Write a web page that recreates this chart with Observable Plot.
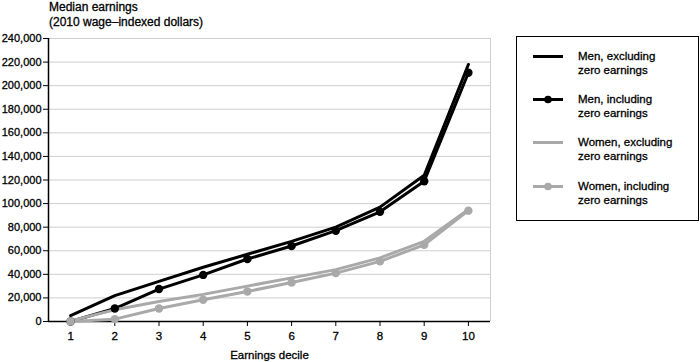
<!DOCTYPE html>
<html><head><meta charset="utf-8">
<script src="https://cdn.jsdelivr.net/npm/d3@7"></script>
<script src="https://cdn.jsdelivr.net/npm/@observablehq/plot@0.6"></script>
<style>
body{margin:0;background:#fff;font-family:"Liberation Sans",Arial,sans-serif;}
#wrap{position:relative;width:700px;height:362px;}
#title{position:absolute;left:49px;top:0px;font-size:12px;line-height:15px;color:#000;-webkit-text-stroke:0.3px #000;}
#legend{position:absolute;left:516px;top:36px;width:183px;height:185px;border:1.5px solid #000;box-sizing:border-box;}
.item{position:absolute;left:16px;font-size:11.5px;line-height:14px;-webkit-text-stroke:0.3px #000;}
.item svg{position:absolute;left:0;top:3px;}
.item span{position:absolute;left:45px;top:0;white-space:nowrap;}
svg text{stroke:#000;stroke-width:0.3px;}
</style></head>
<body><div id="wrap"><div id="chart"></div><div id="title">Median earnings<br>(2010 wage–indexed dollars)</div><div id="legend"></div></div>
<script>
const deciles = [1,2,3,4,5,6,7,8,9,10];
const menExcl   = [5000, 22000, 34000, 46000, 57000, 68000, 80000, 97000, 124000, 218000];
const menIncl   = [0, 11000, 27500, 39500, 53000, 64000, 77000, 93000, 119000, 211000];
const womenExcl = [500, 10000, 17000, 23000, 30000, 37000, 44000, 54000, 68000, 95000];
const womenIncl = [0, 2000, 11000, 18500, 25500, 33000, 41000, 51000, 65000, 94000];
const yTicks = [0,20000,40000,60000,80000,100000,120000,140000,160000,180000,200000,220000,240000];
const seriesNames = ["Men, excluding zero earnings","Men, including zero earnings","Women, excluding zero earnings","Women, including zero earnings"];
const seriesColors = ["#000000","#000000","#a9a9a9","#a9a9a9"];
const seriesDots = [false,true,false,true];
const seriesValues = [menExcl, menIncl, womenExcl, womenIncl];

const rows = [];
seriesValues.forEach((vals,i)=>vals.forEach((v,j)=>rows.push({series:seriesNames[i], decile:deciles[j], value:v})));

const fmt = d3.format(",");
const chart = Plot.plot({
  width:700, height:362,
  marginLeft:48, marginRight:210, marginTop:38, marginBottom:41,
  style:{fontFamily:'"Liberation Sans",Arial,sans-serif', fontSize:"11px", color:"#000", background:"transparent", overflow:"visible"},
  x:{domain:[0.5,10.5]},
  y:{domain:[0,240000]},
  marks:[
    Plot.gridY(yTicks.filter(d=>d>0), {stroke:"#cfcfcf", strokeOpacity:1, strokeWidth:1}),
    Plot.ruleX([10.5], {stroke:"#cfcfcf", strokeWidth:1}),
    Plot.axisX({ticks:deciles, tickFormat:d=>String(d), tickSize:5, tickPadding:5, fontSize:11.5, label:"Earnings decile", labelAnchor:"center", labelArrow:"none", labelOffset:37}),
    Plot.axisY({ticks:yTicks, tickFormat:fmt, tickSize:5, tickPadding:2, label:null}),
    Plot.ruleY([0], {stroke:"#000", strokeWidth:1.5}),
    Plot.ruleX([0.5], {stroke:"#000", strokeWidth:1.5}),
    ...seriesNames.map((s,i)=>Plot.line(rows.filter(r=>r.series===s), {x:"decile", y:"value", stroke:seriesColors[i], strokeWidth:3, strokeLinejoin:"miter"})),
    ...seriesNames.map((s,i)=>seriesDots[i] ? Plot.dot(rows.filter(r=>r.series===s), {x:"decile", y:"value", fill:seriesColors[i], r:4.2}) : null).filter(Boolean)
  ]
});
document.getElementById("chart").appendChild(chart);

const legend = document.getElementById("legend");
const tops = [12, 55, 98, 142];
seriesNames.forEach((s,i)=>{
  const words = s.split(" ");
  const div = document.createElement("div");
  div.className = "item";
  div.style.top = tops[i] + "px";
  div.innerHTML = `<svg width="30" height="9"><line x1="0" x2="30" y1="4.5" y2="4.5" stroke="${seriesColors[i]}" stroke-width="3"/>${seriesDots[i]?`<circle cx="15" cy="4.5" r="3.8" fill="${seriesColors[i]}"/>`:""}</svg><span>${words.slice(0,2).join(" ")}<br>${words.slice(2).join(" ")}</span>`;
  legend.appendChild(div);
});
</script></body></html>
